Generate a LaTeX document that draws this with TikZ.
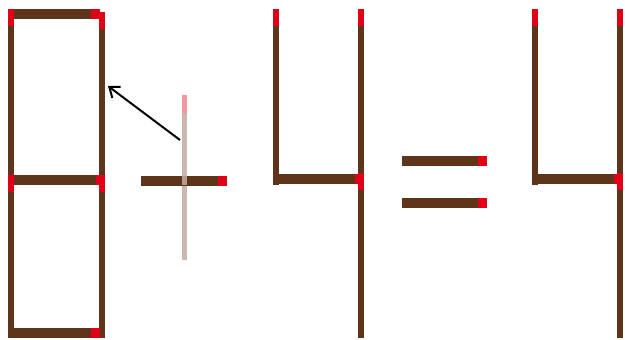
\documentclass[tikz,border=0pt]{standalone}
\usetikzlibrary{arrows.meta}
\definecolor{matchbrown}{RGB}{94,52,26}
\definecolor{matchred}{RGB}{226,0,22}
\definecolor{fadebrown}{RGB}{205,182,172}
\definecolor{fadered}{RGB}{242,150,160}
% horizontal match: x-left, x-right (head at right), y-centre
\newcommand\hmatch[3]{%
  \fill[matchbrown] (#1,#3-5) rectangle (#2,#3+5);
  \fill[matchred] (#2-9,#3-5) rectangle (#2,#3+5);}
% vertical match: x-centre, y-top (head at top), y-bottom
\newcommand\vmatch[3]{%
  \fill[matchbrown] (#1-3,#2) rectangle (#1+3,#3);
  \fill[matchred] (#1-3,#2) rectangle (#1+3,#2+17);}
\begin{document}
\begin{tikzpicture}[x=1pt,y=-1pt,
  arrowline/.style={black,line width=2pt,-{Straight Barb[length=9pt,width=14pt,line width=2pt]}}]
\useasboundingbox (0,0) rectangle (625,340);
\fill[white] (0,0) rectangle (625,340);
% ---- digit 8 ----
\vmatch{11}{9}{180}
\vmatch{11}{175}{338}
\vmatch{102}{12}{180}
\vmatch{102}{175}{338}
\hmatch{8}{100}{14}
\hmatch{8}{105}{180}
\hmatch{8}{100}{333}
\fill[matchred] (8,9) rectangle (14,26);
\fill[matchred] (8,175) rectangle (14,191);
% ---- plus (faded vertical match) ----
\fill[fadebrown] (182,113) rectangle (187,260);
\fill[fadered] (182,95) rectangle (187,113);
\hmatch{141}{227}{180.5}
\fill[fadebrown!80!matchbrown] (182,176) rectangle (187,185);
% ---- first 4 ----
\vmatch{275.5}{9}{185}
\vmatch{361}{9}{338}
\hmatch{273}{364}{179}
\fill[matchred] (358,173) rectangle (364,190);
% ---- equals ----
\hmatch{402}{487}{160.5}
\hmatch{402}{487}{202.5}
% ---- second 4 ----
\vmatch{534.5}{9}{185}
\vmatch{620}{9}{338}
\hmatch{532}{623}{179}
\fill[matchred] (617,173) rectangle (623,190);
% ---- arrow ----
\coordinate (from) at (180,140);
\coordinate (to) at (108,86);
\draw[arrowline] (from) -- (to);
\end{tikzpicture}
\end{document}
